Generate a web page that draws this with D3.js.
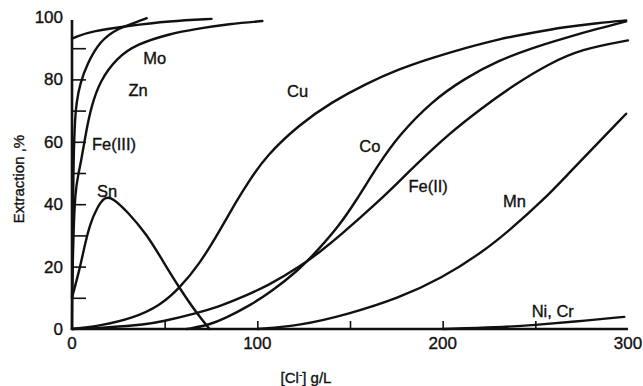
<!DOCTYPE html>
<html lang="en">
<head>
    <meta charset="UTF-8">
    <title>Extraction vs chloride</title>
    <script src="https://cdn.jsdelivr.net/npm/d3@7/dist/d3.min.js"></script>
    <style>
        body { margin: 0; background: #fff; }
        text { font-family: "Liberation Sans", Arial, sans-serif; fill: #111; stroke: #111; stroke-width: 0.35px; }
    </style>
</head>
<body>
</body>
<script>
    // values: [Cl-] g/L, extraction %
    var mo = [[0, 93], [1.6, 93.6], [11.3, 95.5], [29.6, 97.1], [52.7, 98.7], [75.3, 99.4]];
    var fe3 = [[0, 0], [0.3, 25], [0.7, 50], [1.4, 66], [2.5, 73], [4.3, 78.5], [8.1, 84.9], [15.1, 92.3], [24.2, 96.2], [34.9, 98.4], [40.3, 99.6]];
    var zn = [[0, 10], [0.8, 32], [1.8, 44], [3.2, 49], [5, 54], [7.5, 63], [10.5, 71.5], [15.1, 79.5], [24.2, 86.9], [34.9, 91.3], [52.7, 94.6], [67, 96.2], [85, 97.8], [102.7, 98.7]];
    var sn = [[0, 10], [4.3, 19.6], [7, 27.2], [9.7, 33.6], [13.4, 38.8], [17.7, 42.5], [22, 42], [29.6, 37.8], [40.3, 30.4], [49, 21.8], [58, 13.1], [67.2, 5.1], [74.2, 0]];
    var cu = [[0, 0], [15, 1], [33, 3.5], [47.3, 7.4], [58, 13.1], [68.8, 20.8], [79.6, 31.4], [88.7, 41], [95.7, 47.6], [104.8, 55.5], [122.6, 65.5], [140.3, 72.8], [158.6, 78.6], [176.3, 83.3], [194.1, 86.9], [212.4, 90.1], [230, 92.9], [247.8, 94.9], [266, 96.8], [283.9, 98.1], [299, 98.9]];
    var co = [[62, 0], [74, 1.3], [83, 3.5], [95.7, 7.5], [106.5, 11.5], [122.6, 19], [133, 25.5], [144, 33], [153.2, 41], [165.6, 53], [176.3, 62], [194.1, 73], [212.4, 80.5], [230, 86], [247.8, 90], [266, 93.3], [283.9, 96.3], [299, 98.6]];
    var fe2 = [[0, 0], [20, 0.5], [40, 1.5], [47.3, 2.2], [67.2, 5], [79.6, 7.3], [86.6, 8.9], [106.5, 14], [124.2, 20.5], [133.3, 24.5], [144, 29.6], [165.6, 41], [176, 47], [185.5, 52.6], [203.2, 62.5], [221, 70.8], [239.2, 78.5], [257, 84.9], [274.7, 89.7], [300, 92.5]];
    var mn = [[100, 0], [122.6, 1], [149.5, 4.8], [176.3, 9.9], [199.5, 16.3], [221, 24.4], [237.1, 32.1], [255.4, 42], [265, 48], [299, 69]];
    var nicr = [[200, 0], [230, 0.5], [250, 1.3], [270, 2.3], [298, 3.9]];

    var xTicks = [0, 100, 200, 300];
    var xMinor = [50, 100, 150, 200, 250];
    var yTicks = [0, 20, 40, 60, 80, 100];
    var yMinor = [10, 20, 30, 40, 50, 60, 70, 80, 90];

    // label text and where it sits, in data units
    var labels = [
        {t: 'Mo', x: 38.5, y: 84.8},
        {t: 'Zn', x: 30.5, y: 74.7},
        {t: 'Fe(III)', x: 10.8, y: 57.5},
        {t: 'Sn', x: 13.5, y: 42.3},
        {t: 'Cu', x: 116, y: 74.3},
        {t: 'Co', x: 155, y: 56.7},
        {t: 'Fe(II)', x: 181.5, y: 43.9},
        {t: 'Mn', x: 232.5, y: 39.1},
        {t: 'Ni, Cr', x: 248, y: 3.8}
    ];

    var width = 643, height = 386;

    var svg = d3.select('body')
        .append('svg')
        .attr('width', width)
        .attr('height', height);

    var x = d3.scaleLinear().domain([0, 300]).range([72, 628]);
    var y = d3.scaleLinear().domain([0, 100]).range([329, 17]);

    var line = d3.line()
        .x(function (d) { return x(d[0]); })
        .y(function (d) { return y(d[1]); })
        .curve(d3.curveBasis);

    [mo, fe3, zn, sn, cu, co, fe2, mn, nicr].forEach(function (s) {
        svg.append('path')
            .attr('d', line(s))
            .attr('fill', 'none')
            .attr('stroke', '#111')
            .attr('stroke-width', 2.4)
            .attr('stroke-linecap', 'round');
    });

    // axes: inward ticks, domain drawn separately
    var xAxis = svg.append('g')
        .attr('transform', 'translate(0,' + y(0) + ')')
        .call(d3.axisTop(x).tickValues(xMinor).tickSize(8).tickFormat(''));
    xAxis.select('.domain').remove();
    xAxis.selectAll('line').attr('stroke', '#111').attr('stroke-width', 1.6);

    var yAxis = svg.append('g')
        .attr('transform', 'translate(' + x(0) + ',0)')
        .call(d3.axisRight(y).tickValues(yMinor).tickSize(14).tickFormat(''));
    yAxis.select('.domain').remove();
    yAxis.selectAll('line').attr('stroke', '#111').attr('stroke-width', 1.6);

    svg.append('line')
        .attr('x1', x(0)).attr('x2', x(300))
        .attr('y1', y(0)).attr('y2', y(0))
        .attr('stroke', '#111').attr('stroke-width', 2.6);
    svg.append('line')
        .attr('x1', x(0)).attr('x2', x(0))
        .attr('y1', y(0) + 1).attr('y2', y(99))
        .attr('stroke', '#111').attr('stroke-width', 2.6);

    svg.selectAll('.xl')
        .data(xTicks)
        .enter().append('text')
        .attr('x', function (d) { return x(d); })
        .attr('y', 349)
        .attr('text-anchor', 'middle')
        .attr('font-size', 17)
        .text(function (d) { return d; });

    svg.selectAll('.yl')
        .data(yTicks)
        .enter().append('text')
        .attr('x', 63)
        .attr('y', function (d) { return y(d) + 6; })
        .attr('text-anchor', 'end')
        .attr('font-size', 17)
        .text(function (d) { return d; });

    svg.selectAll('.cl')
        .data(labels)
        .enter().append('text')
        .attr('x', function (d) { return x(d.x); })
        .attr('y', function (d) { return y(d.y); })
        .attr('font-size', 16.5)
        .text(function (d) { return d.t; });

    var xt = svg.append('text')
        .attr('x', 306)
        .attr('y', 383)
        .attr('text-anchor', 'middle')
        .attr('font-size', 15);
    xt.append('tspan').text('[Cl');
    xt.append('tspan').attr('dy', -5).attr('font-size', 10).text('-');
    xt.append('tspan').attr('dy', 5).text('] g/L');

    svg.append('text')
        .attr('transform', 'translate(24,179) rotate(-90)')
        .attr('text-anchor', 'middle')
        .attr('font-size', 15)
        .text('Extraction ,%');
</script>
</html>
